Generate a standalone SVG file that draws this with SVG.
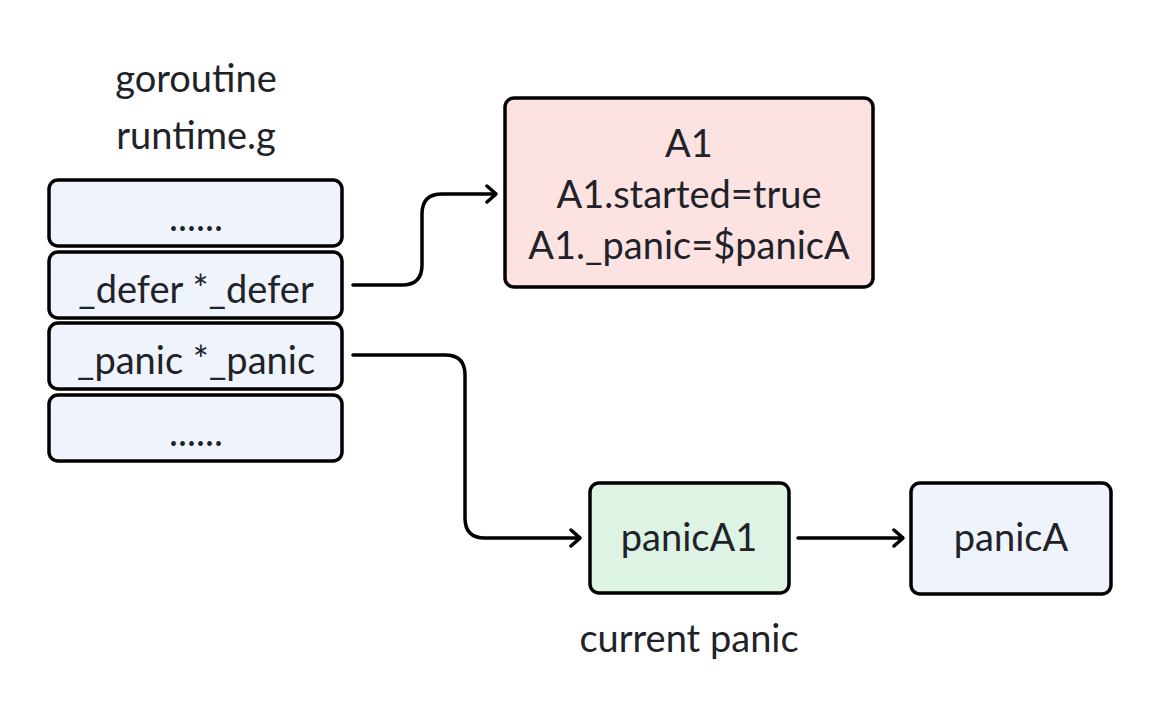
<svg xmlns="http://www.w3.org/2000/svg" width="1162" height="712" viewBox="0 0 1162 712">
<style>
text{font-family:"Source Sans Pro",Lato,"Noto Sans",sans-serif;fill:#1f2329;text-anchor:middle;font-size:38px}
.box{stroke:#000;stroke-width:3.5}
.blue{fill:#eff3fc}
.pink{fill:#fde2e2}
.green{fill:#ddf3e4}
.conn{fill:none;stroke:#000;stroke-width:3.5;stroke-linecap:round;stroke-linejoin:round}
</style>
<defs>
<marker id="arr" viewBox="0 0 12 20" refX="11" refY="10" markerWidth="12" markerHeight="20" markerUnits="userSpaceOnUse" orient="auto">
<path d="M2,2 L11,10 L2,18" fill="none" stroke="#000" stroke-width="3.5" stroke-linecap="round" stroke-linejoin="round"/>
</marker>
</defs>
<rect width="1162" height="712" fill="#fff"/>
<g id="title">
<text x="196" y="92" font-size="42">goroutine</text>
<text x="196" y="149" font-size="42">runtime.g</text>
</g>
<g id="g-top">
<rect class="box blue" x="49" y="180" width="293" height="66" rx="9"/>
<text x="196" y="231">......</text>
</g>
<g id="g-defer">
<rect class="box blue" x="49" y="252" width="293" height="66" rx="9"/>
<text x="196" y="303">_defer *_defer</text>
</g>
<g id="g-panic">
<rect class="box blue" x="49" y="323" width="293" height="66" rx="9"/>
<text x="196" y="374">_panic *_panic</text>
</g>
<g id="g-bottom">
<rect class="box blue" x="49" y="395" width="293" height="66" rx="9"/>
<text x="196" y="446">......</text>
</g>
<g id="A1">
<rect class="box pink" x="505" y="98" width="368" height="189" rx="9"/>
<text x="689" y="157">A1</text>
<text x="689" y="208">A1.started=true</text>
<text x="689" y="259">A1._panic=$panicA</text>
</g>
<g id="panicA1">
<rect class="box green" x="590" y="483" width="199" height="110" rx="9"/>
<text x="689" y="551">panicA1</text>
<text x="689" y="652">current panic</text>
</g>
<g id="panicA">
<rect class="box blue" x="911" y="483" width="200" height="111" rx="9"/>
<text x="1011" y="551">panicA</text>
</g>
<g id="connectors">
<path class="conn" d="M353,285 H402 Q422,285 422,265 V214 Q422,194 442,194 H496" marker-end="url(#arr)"/>
<path class="conn" d="M353,355 H445 Q465,355 465,375 V518 Q465,538 485,538 H580" marker-end="url(#arr)"/>
<path class="conn" d="M798,538 H903" marker-end="url(#arr)"/>
</g>
</svg>
